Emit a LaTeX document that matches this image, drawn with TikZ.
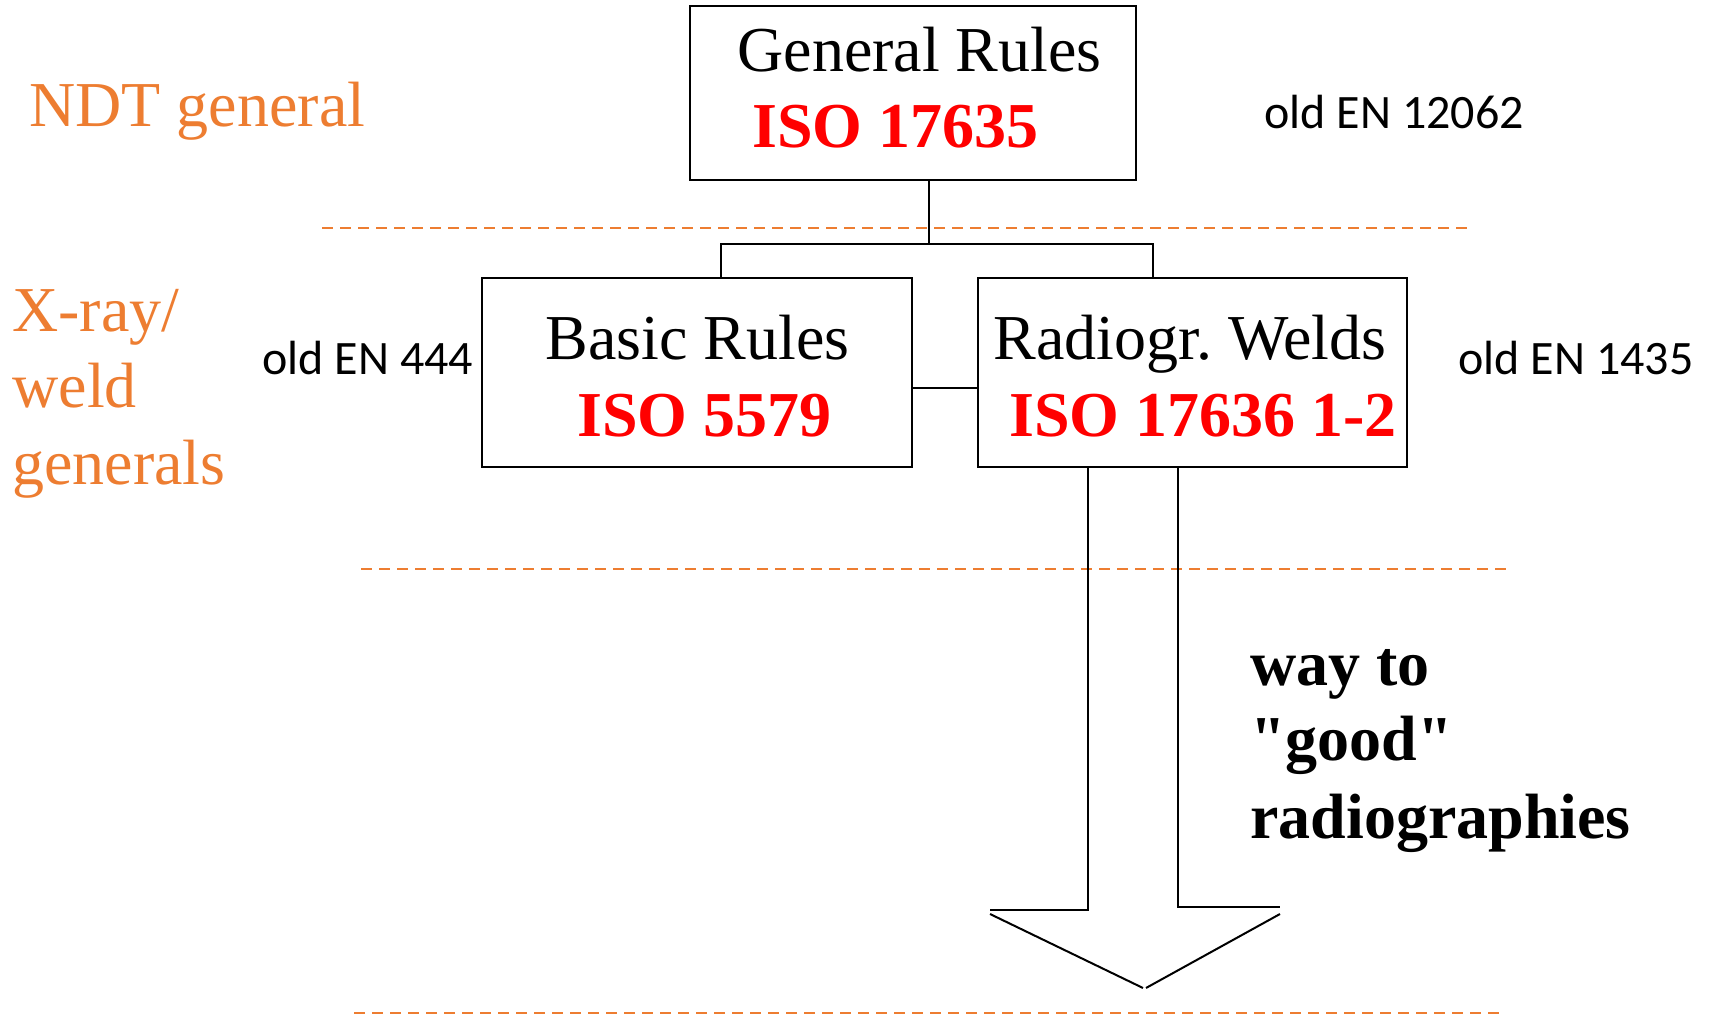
\documentclass[tikz,border=0pt]{standalone}
\usepackage{fontspec}
\setmainfont{Liberation Serif}
\newfontfamily\calibri{Carlito}
\definecolor{ndtorange}{HTML}{ED7D31}
\definecolor{isored}{HTML}{FF0000}
\frenchspacing
% straight double quote glyph, set directly so no quote mapping applies
\newcommand\straightdq{\XeTeXglyph\XeTeXcharglyph"22\relax}
\begin{document}
\begin{tikzpicture}[x=0.5pt,y=-0.5pt,
  box/.style={draw=black,line width=1.15pt,inner sep=0pt,outer sep=0pt,anchor=north west},
  link/.style={draw=black,line width=1pt},
  level/.style={draw=ndtorange,line width=1.3pt,dash pattern=on 5.5pt off 3.5pt},
  title/.style={anchor=base west,inner sep=0pt,font=\fontsize{32}{38}\selectfont},
  code/.style={anchor=base west,inner sep=0pt,text=isored,font=\fontsize{32}{38}\selectfont\bfseries},
  oldnorm/.style={anchor=base west,inner sep=0pt,font=\calibri\fontsize{24}{29}\selectfont},
  layer/.style={anchor=base west,inner sep=0pt,text=ndtorange,font=\fontsize{32}{38}\selectfont},
  note/.style={anchor=base west,inner sep=0pt,font=\fontsize{32}{38}\selectfont\bfseries}]
\useasboundingbox (0,0) rectangle (1710,1016);

% level separators
\draw[level] (322,228) -- (1472,228);
\draw[level] (361,569) -- (1510,569);
\draw[level] (354,1013) -- (1503,1013);

% boxes
\node[box,minimum width=223pt,minimum height=87pt] (top) at (690,6) {};
\node[box,minimum width=215pt,minimum height=94.5pt] (basic) at (482,278) {};
\node[box,minimum width=214.5pt,minimum height=94.5pt] (radio) at (978,278) {};

% box texts
\node[title] (toptitle) at (737,72) {General Rules};
\node[code] (topcode) at (752,148) {ISO 17635};
\node[title] (basictitle) at (545,360) {Basic Rules};
\node[code] (basiccode) at (577,437) {ISO 5579};
\node[title] (radiotitle) at (993,360) {Radiogr. Welds};
\node[code] (radiocode) at (1009,437) {ISO 17636 1-2};

% former standards
\node[oldnorm] (old1) at (1264,129) {old EN 12062};
\node[oldnorm] (old2) at (262,375) {old EN 444};
\node[oldnorm] (old3) at (1458,375) {old EN 1435};

% level labels
\node[layer] (lvl1) at (29,127) {NDT general};
\node[layer] (lvl2a) at (12,332) {X-ray/};
\node[layer] (lvl2b) at (12,408) {weld};
\node[layer] (lvl2c) at (12,485) {generals};

% tree connectors
\coordinate (hub) at (929,244);
\coordinate (jl) at (721,244);
\coordinate (jr) at (1153,244);
\coordinate (mid) at (945,388);
\draw[link] (top.south -| hub) -- (hub);
\draw[link] (jl |- basic.north) -- (jl) -- (jr) -- (jr |- radio.north);
\draw[link] (basic.east |- mid) -- (radio.west |- mid);

% open arrow out of the weld box
\coordinate (sl) at (1088,910);
\coordinate (sr) at (1178,907);
\coordinate (bl) at (990,910);
\coordinate (br) at (1280,907);
\coordinate (hl) at (990,914);
\coordinate (hr) at (1280,914);
\coordinate (tipl) at (1143,988);
\coordinate (tipr) at (1146,988);
\draw[link] (radio.south -| sl) -- (sl) -- (bl);
\draw[link] (radio.south -| sr) -- (sr) -- (br);
\draw[link] (hl) -- (tipl);
\draw[link] (tipr) -- (hr);

% arrow caption
\node[note] (way1) at (1250,685) {way to};
\node[note] (way2) at (1250,760) {\straightdq good\straightdq};
\node[note] (way3) at (1250,838) {radiographies};
\end{tikzpicture}
\end{document}
